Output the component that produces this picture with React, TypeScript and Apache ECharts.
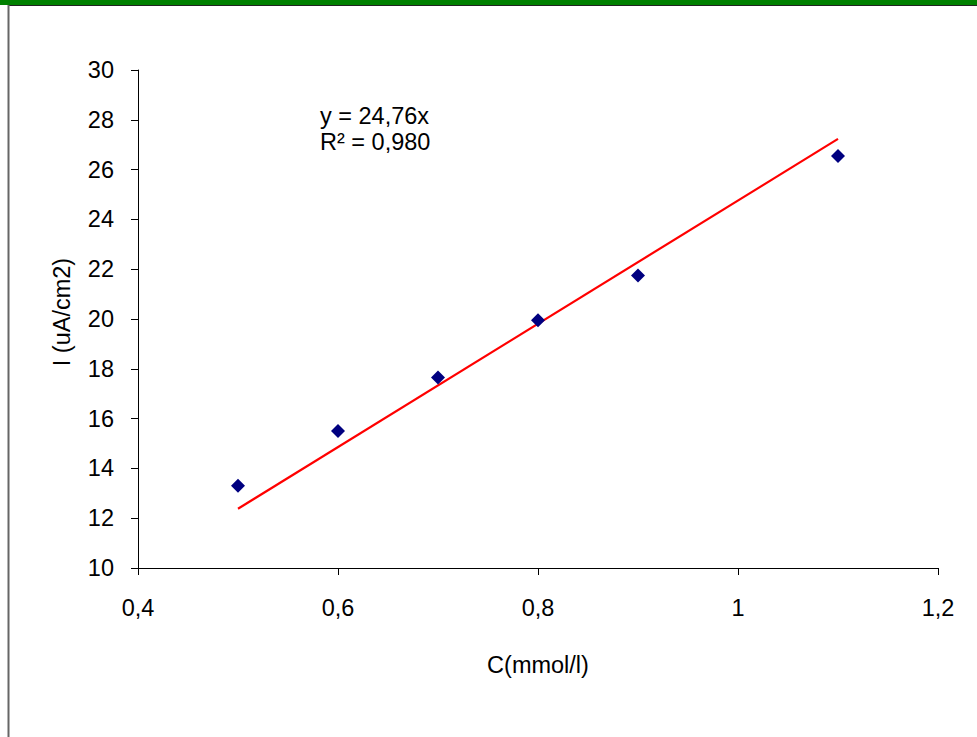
import React, { useEffect, useRef } from "react";
import * as echarts from "echarts";

const concentrations = [0.5, 0.6, 0.7, 0.8, 0.9, 1.1];
const currents = [13.3, 15.5, 17.65, 19.95, 21.75, 26.55];
const slope = 24.76;
const trendRange = [0.5, 1.1];
const equationLines = ["y = 24,76x", "R² = 0,980"];
const xTitle = "C(mmol/l)";
const yTitle = "I (uA/cm2)";

const fontFamily = "Arial, 'Liberation Sans', sans-serif";
const fs = 23.5;

export default function App() {
  const ref = useRef<HTMLDivElement>(null);
  useEffect(() => {
    if (!ref.current) return;
    const chart = echarts.init(ref.current, undefined, { renderer: "svg" });
    const points = concentrations.map((c, i) => [c, currents[i]]);
    const trend = trendRange.map((x) => [x, slope * x]);
    const fmt = (v: number) => String(Math.round(v * 10) / 10).replace(".", ",");
    chart.setOption({
      animation: false,
      backgroundColor: "#ffffff",
      grid: { left: 138, right: 39, top: 70, bottom: 169, containLabel: false },
      xAxis: {
        type: "value",
        min: 0.4,
        max: 1.2,
        interval: 0.2,
        name: xTitle,
        nameLocation: "middle",
        nameGap: 85,
        nameTextStyle: { color: "#000", fontSize: fs, fontFamily },
        axisLine: { show: true, onZero: false, lineStyle: { color: "#000", width: 1 } },
        axisTick: { show: true, length: 7, lineStyle: { color: "#000" } },
        axisLabel: { color: "#000", fontSize: fs, fontFamily, margin: 28, formatter: fmt },
        splitLine: { show: false },
      },
      yAxis: {
        type: "value",
        min: 10,
        max: 30,
        interval: 2,
        name: yTitle,
        nameLocation: "middle",
        nameGap: 64,
        nameRotate: 90,
        nameTextStyle: { color: "#000", fontSize: fs, fontFamily, padding: [0, 0, 0, 14] },
        axisLine: { show: true, onZero: false, lineStyle: { color: "#000", width: 1 } },
        axisTick: { show: true, length: 7, lineStyle: { color: "#000" } },
        axisLabel: { color: "#000", fontSize: fs, fontFamily, margin: 24, formatter: fmt },
        splitLine: { show: false },
      },
      series: [
        {
          type: "line",
          data: trend,
          showSymbol: false,
          symbol: "none",
          lineStyle: { color: "#ff0000", width: 2.2 },
          z: 2,
        },
        {
          type: "scatter",
          data: points,
          symbol: "diamond",
          symbolSize: 14,
          itemStyle: { color: "#000080", opacity: 1 },
          z: 3,
        },
      ],
      graphic: [
        { type: "rect", shape: { x: 0, y: 0, width: 977, height: 5 }, style: { fill: "#008000" } },
        { type: "line", shape: { x1: 8, y1: 5.5, x2: 977, y2: 5.5 }, style: { stroke: "#222", lineWidth: 1 } },
        { type: "line", shape: { x1: 8.5, y1: 5, x2: 8.5, y2: 737 }, style: { stroke: "#666", lineWidth: 2 } },
        {
          type: "text",
          x: 320,
          y: 104,
          style: { text: equationLines[0], fill: "#000", font: `${fs}px ${fontFamily}` },
        },
        {
          type: "text",
          x: 320,
          y: 130,
          style: { text: equationLines[1], fill: "#000", font: `${fs}px ${fontFamily}` },
        },
      ],
    });
    return () => chart.dispose();
  }, []);
  return (
    <div
      ref={ref}
      style={{ position: "fixed", left: 0, top: 0, width: 977, height: 737 }}
    />
  );
}
